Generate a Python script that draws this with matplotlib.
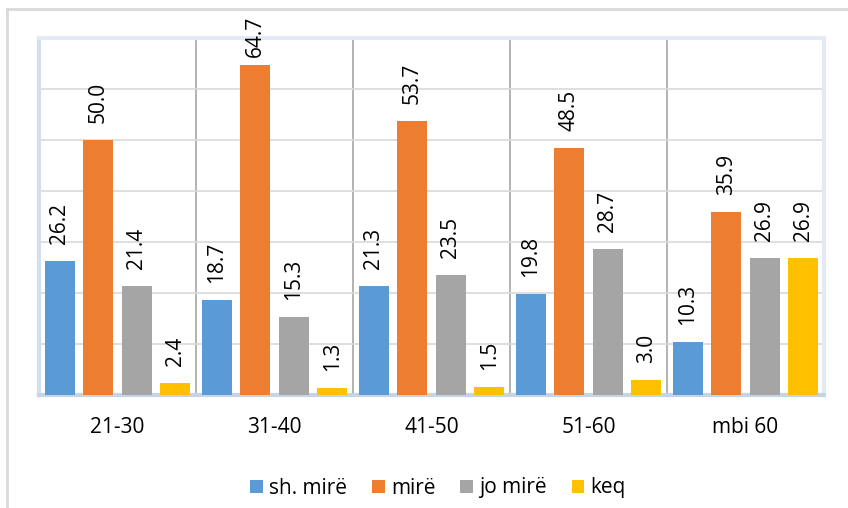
import matplotlib as mpl
mpl.use('agg')
import matplotlib.pyplot as plt
from matplotlib.lines import Line2D
import numpy as np

categories = ['21-30', '31-40', '41-50', '51-60', 'mbi 60']
series_names = ['sh. mirë', 'mirë', 'jo mirë', 'keq']
sh_mire = [26.2, 18.7, 21.3, 19.8, 10.3]
mire = [50.0, 64.7, 53.7, 48.5, 35.9]
jo_mire = [21.4, 15.3, 23.5, 28.7, 26.9]
keq = [2.4, 1.3, 1.5, 3.0, 26.9]
colors = ['#5B9BD5', '#ED7D31', '#A5A5A5', '#FFC000']

plt.rcParams['font.family'] = ['Open Sans', 'DejaVu Sans']

fig = plt.figure(figsize=(8.48, 5.08), dpi=100)
ax = fig.add_axes([0.046, 0.2224, 0.9257, 0.7028])

# outer chart border (left and top only visible)
fig.add_artist(Line2D([7/848, 7/848], [0, 1 - 9/508], color='#d9d9d9', lw=2,
                      transform=fig.transFigure))
fig.add_artist(Line2D([7/848, 1], [1 - 9/508, 1 - 9/508], color='#d9d9d9', lw=2,
                      transform=fig.transFigure))

x = np.arange(len(categories))
step = 0.245
width = 0.19
labels = []
for i, (vals, name) in enumerate(zip([sh_mire, mire, jo_mire, keq], series_names)):
    pos = x + (i - 1.5) * step
    ax.bar(pos, vals, width=width, color=colors[i], label=name, zorder=3)
    for p, v in zip(pos, vals):
        t = ax.annotate('%.1f' % v, (p, v), xytext=(0, 17), textcoords='offset pixels',
                        rotation=90, ha='center', va='bottom', fontsize=15,
                        color='#000000', annotation_clip=False)
        labels.append(t)

ax.set_xlim(-0.5, len(categories) - 0.5)
ax.set_ylim(0, 70)
ax.set_yticks(np.arange(0, 71, 10))
ax.set_yticklabels([])
ax.tick_params(axis='y', length=0)
ax.grid(axis='y', color='#d9d9d9', lw=1.2, zorder=0)

# vertical separators between categories
for b in np.arange(0.5, len(categories) - 0.5, 1):
    ax.axvline(b, color='#a6a6a6', lw=1.2, zorder=1)

ax.set_xticks(x)
ax.set_xticklabels(categories, fontsize=15)
ax.tick_params(axis='x', length=0, pad=16)

for s in ax.spines.values():
    s.set_color('#e3eaf5')
    s.set_linewidth(3)
ax.spines['bottom'].set_color('#c6d4e8')
ax.spines['left'].set_color('#d3deee')

fig.legend(loc='center', bbox_to_anchor=(438/848, 1 - 488/508), ncol=4,
           frameon=False, fontsize=15, handlelength=0.6, handleheight=0.6,
           handletextpad=0.3, columnspacing=1.2)

# keep labels inside the chart: push down ones that run past the top
fig.canvas.draw()
r = fig.canvas.get_renderer()
H = fig.bbox.height
for t in labels:
    top = t.get_window_extent(r).y1
    over = top - (H - 16)
    if over > 0:
        t.set_position((0, max(8, 17 - over)))

fig.savefig('out.png', dpi=100)
